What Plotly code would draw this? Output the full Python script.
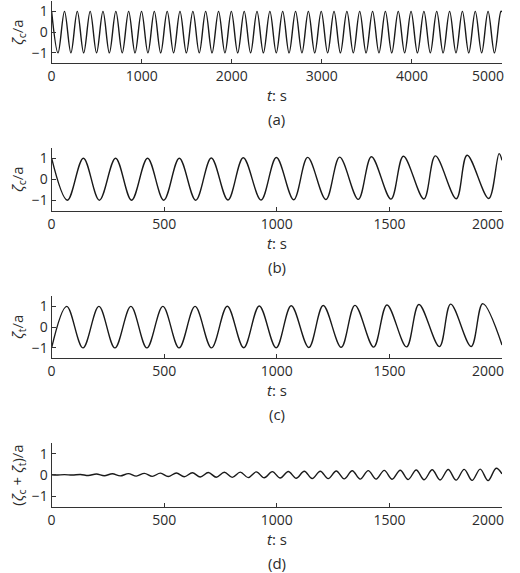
import plotly.graph_objects as go
from plotly.subplots import make_subplots

# extrema (peaks / troughs), t in s, value in units of a

# (a) zeta_c over the full 5000 s record
a_t = [0, 71, 143, 214, 285, 356, 428, 499, 570, 641,
       713, 784, 855, 926, 998, 1069, 1140, 1211, 1283, 1354,
       1425, 1496, 1568, 1639, 1710, 1781, 1853, 1924, 1995, 2066,
       2138, 2209, 2280, 2351, 2423, 2494, 2565, 2636, 2708, 2779,
       2850, 2921, 2993, 3064, 3135, 3206, 3278, 3349, 3420, 3491,
       3563, 3634, 3705, 3776, 3848, 3919, 3990, 4061, 4133, 4204,
       4275, 4346, 4418, 4489, 4560, 4631, 4703, 4774, 4845, 4916,
       4988, 5000]
a_y = [1, -1, 1, -1, 1, -1, 1, -1, 1, -1,
       1, -1, 1, -1, 1, -1, 1, -1, 1, -1,
       1, -1, 1, -1, 1, -1, 1, -1, 1, -1,
       1, -1, 1, -1, 1, -1, 1, -1, 1, -1,
       1, -1, 1, -1, 1, -1, 1, -1, 1, -1,
       1, -1, 1, -1, 1, -1, 1, -1, 1, -1,
       1, -1, 1, -1, 1, -1, 1, -1, 1, -1,
       1, 0.98]

# (b) zeta_c, first 2000 s
b_t = [0, 70, 141, 212, 284, 355, 426, 498, 567, 640,
       709, 783, 851, 930, 998, 1075, 1137, 1218, 1279, 1362,
       1420, 1507, 1562, 1653, 1704, 1797, 1845, 1941, 1987, 2000]
b_y = [1.0, -1.0, 1.0, -1.0, 1.0, -1.0, 1.0, -1.0, 1.0, -1.0,
       1.01, -0.99, 1.02, -0.99, 1.03, -0.98, 1.04, -0.97, 1.05, -0.96,
       1.07, -0.95, 1.09, -0.94, 1.11, -0.93, 1.14, -0.92, 1.22, 0.9]

# (c) zeta_t, first 2000 s
c_t = [0, 67, 139, 210, 281, 352, 423, 494, 566, 637,
       710, 780, 853, 922, 997, 1064, 1142, 1206, 1286, 1347,
       1430, 1489, 1576, 1631, 1722, 1772, 1863, 1914, 2000]
c_y = [-1.0, 1.0, -1.0, 1.0, -1.0, 1.0, -1.0, 1.0, -1.0, 1.0,
       -1.0, 1.01, -0.99, 1.02, -0.99, 1.03, -0.98, 1.04, -0.97, 1.05,
       -0.96, 1.07, -0.95, 1.09, -0.94, 1.11, -0.93, 1.13, -0.86]

# (d) zeta_c + zeta_t
d_t = [0, 21, 57, 92, 128, 163, 199, 234, 270, 305,
       341, 376, 412, 447, 483, 518, 554, 589, 625, 660,
       696, 731, 767, 802, 838, 873, 909, 944, 980, 1015,
       1051, 1086, 1122, 1157, 1193, 1228, 1264, 1299, 1335, 1370,
       1406, 1441, 1477, 1512, 1548, 1583, 1619, 1654, 1690, 1725,
       1761, 1796, 1832, 1867, 1903, 1938, 1974, 2000]
d_y = [0, -0.01, 0.01, -0.01, 0.02, -0.03, 0.04, -0.04, 0.05, -0.05,
       0.06, -0.06, 0.07, -0.07, 0.08, -0.08, 0.09, -0.09, 0.1, -0.1,
       0.11, -0.11, 0.12, -0.12, 0.13, -0.13, 0.14, -0.14, 0.15, -0.15,
       0.16, -0.16, 0.17, -0.17, 0.17, -0.18, 0.18, -0.19, 0.19, -0.2,
       0.2, -0.2, 0.21, -0.21, 0.22, -0.22, 0.23, -0.23, 0.24, -0.24,
       0.25, -0.25, 0.26, -0.26, 0.27, -0.27, 0.31, 0.05]

panel_letters = ["(a)", "(b)", "(c)", "(d)"]
y_titles = ["<i>ζ</i><sub>c</sub>/a", "<i>ζ</i><sub>c</sub>/a",
            "<i>ζ</i><sub>t</sub>/a", "(<i>ζ</i><sub>c</sub> + <i>ζ</i><sub>t</sub>)/a"]
x_ends = [5000, 2000, 2000, 2000]
x_ticks = [[0, 1000, 2000, 3000, 4000, 5000], [0, 500, 1000, 1500, 2000],
           [0, 500, 1000, 1500, 2000], [0, 500, 1000, 1500, 2000]]
y_ticks = [-1, 0, 1]

# the viewer only gives ~505 px of usable width, so lay out against that
W, H = 505, 573
FONT = "Open Sans"
INK = "#2b2b2b"

# plot boxes in pixels (top, bottom) as measured on the reference
boxes = [(1, 63.3), (147.7, 210.7), (296, 358.3), (443, 506.7)]
x_dom = [48 / W, 502 / W]

fig = make_subplots(rows=4, cols=1)
series = [(a_t, a_y), (b_t, b_y), (c_t, c_y), (d_t, d_y)]
for i, (t, y) in enumerate(series):
    fig.add_trace(go.Scatter(x=t, y=y, mode="lines",
                             line=dict(color="#1a1a1a", width=1.4, shape="spline", smoothing=1.0),
                             showlegend=False), row=i + 1, col=1)

annotations = []
for i in range(4):
    top, bot = boxes[i]
    n = "" if i == 0 else str(i + 1)
    # last tick label would spill past the page edge and get dropped: draw it as an annotation
    labels = [str(v) for v in x_ticks[i][:-1]] + [""]
    fig.layout["xaxis" + n].update(
        domain=x_dom, range=[0, x_ends[i]], tickvals=x_ticks[i], ticktext=labels,
        showline=True, linecolor="#333", linewidth=1.2, ticks="inside", ticklen=4,
        tickcolor="#333", showgrid=False, zeroline=False,
        tickfont=dict(family=FONT, size=14, color=INK))
    fig.layout["yaxis" + n].update(
        domain=[1 - bot / H, 1 - top / H], range=[-1.5, 1.5], tickvals=y_ticks,
        showline=True, linecolor="#333", linewidth=1.2, ticks="inside", ticklen=4,
        tickcolor="#333", showgrid=False, zeroline=False,
        tickfont=dict(family=FONT, size=14, color=INK))
    annotations.append(dict(x=1, y=1 - (bot + 12.5) / H, xref="paper", yref="paper",
                            text=str(x_ticks[i][-1]), showarrow=False, xanchor="right",
                            yanchor="middle", xshift=1,
                            font=dict(family=FONT, size=14, color=INK)))
    annotations.append(dict(x=275 / W, y=1 - (bot + 32) / H, xref="paper", yref="paper",
                            text="<i>t</i>: s", showarrow=False, xanchor="center", yanchor="middle",
                            font=dict(family=FONT, size=15, color=INK)))
    annotations.append(dict(x=275 / W, y=1 - (bot + 56) / H, xref="paper", yref="paper",
                            text=panel_letters[i], showarrow=False, xanchor="center", yanchor="middle",
                            font=dict(family=FONT, size=15, color=INK)))
    annotations.append(dict(x=14 / W, y=1 - (top + bot) / 2 / H, xref="paper", yref="paper",
                            text=y_titles[i], showarrow=False, textangle=-90,
                            xanchor="center", yanchor="middle",
                            font=dict(family=FONT, size=15, color=INK)))

fig.update_layout(width=W, height=H, autosize=False, margin=dict(l=0, r=0, t=0, b=0),
                  plot_bgcolor="white", paper_bgcolor="white",
                  annotations=annotations)

# drop the page's default body margin so the figure sits at the window's corner
fig.write_html("out.html",
               config={"displayModeBar": False, "responsive": False},
               post_script="document.body.style.margin = '0';")
